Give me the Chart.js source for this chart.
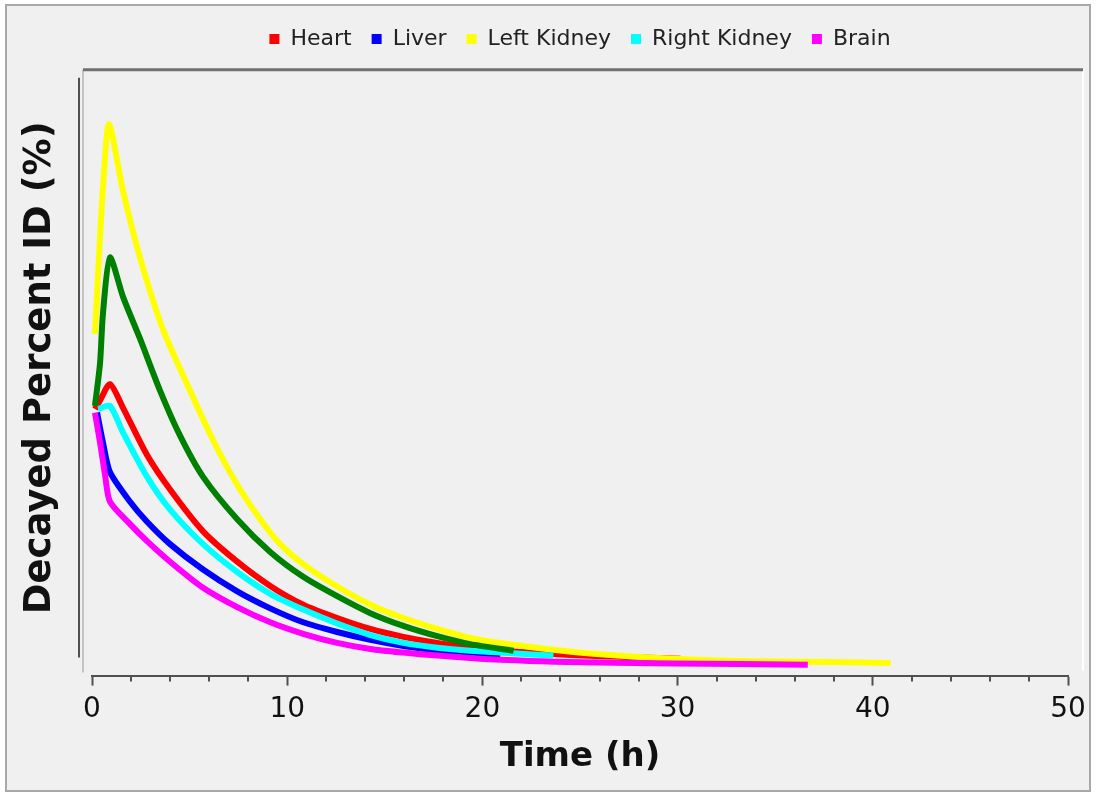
<!DOCTYPE html>
<html>
<head>
<meta charset="utf-8">
<script src="https://cdn.jsdelivr.net/npm/chart.js@4/dist/chart.umd.min.js"></script>
<style>
  html, body { margin: 0; padding: 0; background: #ffffff; }
  #wrap { position: relative; width: 1096px; height: 793px; }
</style>
</head>
<body>
<div id="wrap"><canvas id="myChart"></canvas></div>
<script>
// values (time in h, decayed %ID in arbitrary plot units)
const heartTime = [0.15, 0.41, 0.92, 1.59, 2.82, 4.0, 5.69, 7.44, 9.13, 10.82, 12.56, 14.26, 15.95, 17.69, 19.38, 21.95, 24.51, 27.08, 30.15];
const heartValues = [44.0, 45.4, 48.1, 44.2, 36.4, 30.7, 23.8, 18.8, 14.8, 11.7, 9.5, 7.7, 6.4, 5.4, 4.6, 3.9, 3.4, 3.1, 2.8];

const liverTime = [0.26, 0.56, 0.92, 1.95, 2.82, 4.0, 5.69, 7.44, 9.13, 10.82, 12.56, 14.26, 15.95, 17.69, 19.38, 20.92];
const liverValues = [43.4, 38.5, 33.6, 28.7, 25.4, 21.7, 17.5, 13.9, 11.1, 8.8, 7.2, 5.9, 4.9, 4.2, 3.8, 3.4];

const leftKidneyTime = [0.15, 0.41, 0.56, 0.87, 1.59, 2.46, 3.64, 5.03, 6.21, 7.44, 8.62, 9.64, 10.82, 12.56, 14.26, 15.95, 17.69, 19.38, 21.28, 24.67, 29.0, 33.2, 36.5, 40.92];
const leftKidneyValues = [56.4, 72.3, 80.4, 91.0, 80.0, 69.0, 57.1, 47.0, 38.8, 31.5, 25.8, 21.7, 18.4, 14.7, 11.7, 9.5, 7.7, 6.2, 5.2, 3.9, 2.9, 2.4, 2.3, 2.1];

const rightKidneyTime = [0.31, 0.92, 1.59, 2.82, 4.0, 5.69, 7.44, 9.13, 10.82, 12.56, 14.26, 15.95, 17.69, 19.38, 21.95, 23.64];
const rightKidneyValues = [44.0, 44.5, 40.1, 32.8, 27.4, 21.7, 17.1, 13.5, 10.9, 8.6, 6.7, 5.4, 4.6, 4.1, 3.6, 3.3];

const brainTime = [0.15, 0.41, 0.67, 0.92, 1.95, 2.82, 4.0, 5.69, 7.44, 9.13, 10.82, 12.56, 14.26, 15.95, 17.69, 19.38, 20.92, 23.64, 29.8, 36.67];
const brainValues = [43.4, 38.5, 33.1, 28.7, 25.0, 22.2, 18.8, 14.5, 11.3, 8.8, 6.9, 5.4, 4.4, 3.8, 3.3, 2.9, 2.6, 2.3, 2.0, 1.8];

// green curve in the plot has no legend entry
const kidneyMeanTime = [0.15, 0.41, 0.56, 0.92, 1.59, 2.46, 3.49, 4.51, 5.69, 7.44, 9.13, 10.82, 12.56, 14.26, 15.95, 17.69, 19.38, 21.6];
const kidneyMeanValues = [44.5, 51.5, 59.7, 69.0, 62.5, 55.6, 47.0, 39.6, 32.8, 25.8, 20.4, 16.3, 13.1, 10.3, 8.2, 6.5, 5.2, 4.1];

const legendNames = ['Heart', 'Liver', 'Left Kidney', 'Right Kidney', 'Brain'];
const xTicksMax = 50;
const xMajorStep = 10;
const xMinorStep = 2;

function toPoints(times, values) {
    return times.map((t, i) => ({ x: t, y: values[i] }));
}

function makeSeries(label, times, values, color, order) {
    return {
        label: label,
        data: toPoints(times, values),
        borderColor: color,
        backgroundColor: color,
        borderWidth: 6,
        pointRadius: 0,
        fill: false,
        tension: 0.25,
        order: order
    };
}

const framePlugin = {
    id: 'frame',
    beforeDraw(chart) {
        const ctx = chart.ctx;
        ctx.save();
        ctx.fillStyle = '#ffffff';
        ctx.fillRect(0, 0, chart.width, chart.height);
        ctx.fillStyle = '#f0f0f0';
        ctx.fillRect(6, 5, chart.width - 12, chart.height - 7);
        ctx.strokeStyle = '#a8a8a8';
        ctx.lineWidth = 2;
        ctx.strokeRect(6, 5, chart.width - 12, chart.height - 7);
        ctx.restore();
    },
    beforeDatasetsDraw(chart) {
        const ctx = chart.ctx;
        const ca = chart.chartArea;
        const top = chart.scales.y.getPixelForValue(100);
        const left = ca.left - 9;
        const right = ca.right + 15;
        ctx.save();
        ctx.strokeStyle = '#c4c4c4';
        ctx.lineWidth = 2;
        ctx.beginPath();
        ctx.moveTo(left, top);
        ctx.lineTo(left, ca.bottom - 3);
        ctx.stroke();
        ctx.strokeStyle = '#ffffff';
        ctx.beginPath();
        ctx.moveTo(right, top);
        ctx.lineTo(right, ca.bottom - 5);
        ctx.stroke();
        ctx.strokeStyle = '#707070';
        ctx.lineWidth = 3;
        ctx.beginPath();
        ctx.moveTo(left, top);
        ctx.lineTo(right, top);
        ctx.stroke();
        ctx.strokeStyle = '#505050';
        ctx.lineWidth = 2;
        ctx.beginPath();
        ctx.moveTo(ca.left - 13, top + 8);
        ctx.lineTo(ca.left - 13, ca.bottom - 18);
        ctx.stroke();
        ctx.restore();
    },
    afterDraw(chart) {
        // minor ticks on the time axis
        const ctx = chart.ctx;
        const xs = chart.scales.x;
        ctx.save();
        ctx.strokeStyle = '#505050';
        ctx.lineWidth = 2;
        for (let v = 0; v <= xTicksMax; v += xMinorStep) {
            if (v % xMajorStep === 0) continue;
            const px = Math.round(xs.getPixelForValue(v));
            ctx.beginPath();
            ctx.moveTo(px, xs.top);
            ctx.lineTo(px, xs.top + 6);
            ctx.stroke();
        }
        ctx.restore();
    }
};

const ctx = document.getElementById('myChart').getContext('2d');
const myChart = new Chart(ctx, {
    type: 'line',
    data: {
        datasets: [
            makeSeries('Heart', heartTime, heartValues, '#ff0000', 6),
            makeSeries('Liver', liverTime, liverValues, '#0000ff', 5),
            makeSeries('Left Kidney', leftKidneyTime, leftKidneyValues, '#ffff00', 4),
            makeSeries('Right Kidney', rightKidneyTime, rightKidneyValues, '#00ffff', 3),
            makeSeries('Brain', brainTime, brainValues, '#ff00ff', 2),
            makeSeries('Kidney Mean', kidneyMeanTime, kidneyMeanValues, '#008000', 1)
        ]
    },
    options: {
        responsive: true,
        maintainAspectRatio: false,
        animation: false,
        layout: {
            padding: { left: 14, right: 28, top: 8, bottom: 9 }
        },
        plugins: {
            legend: {
                position: 'top',
                fullSize: false,
                labels: {
                    boxWidth: 10,
                    boxHeight: 10,
                    padding: 20,
                    color: '#222222',
                    font: { family: 'DejaVu Sans', size: 22 },
                    sort: (a, b) => a.datasetIndex - b.datasetIndex,
                    filter: (item) => legendNames.includes(item.text),
                    generateLabels: (chart) => {
                        const items = Chart.defaults.plugins.legend.labels.generateLabels(chart);
                        items.forEach((item) => { item.lineWidth = 0; });
                        return items;
                    }
                }
            },
            tooltip: { enabled: false }
        },
        scales: {
            x: {
                type: 'linear',
                min: 0,
                max: xTicksMax,
                position: 'bottom',
                border: { display: true, color: '#505050', width: 2 },
                grid: {
                    drawOnChartArea: false,
                    drawTicks: true,
                    tickLength: 10,
                    tickWidth: 2,
                    tickColor: '#505050'
                },
                ticks: {
                    stepSize: xMajorStep,
                    padding: 7,
                    color: '#111111',
                    font: { family: 'DejaVu Sans', size: 28 }
                },
                title: {
                    display: true,
                    text: 'Time (h)',
                    color: '#111111',
                    padding: { top: 4, bottom: 6 },
                    font: { family: 'DejaVu Sans', size: 34, weight: 'bold' }
                }
            },
            y: {
                min: 0,
                max: 101.6,
                border: { display: false },
                grid: { display: false },
                ticks: { display: false },
                title: {
                    display: true,
                    text: 'Decayed Percent ID (%)',
                    color: '#111111',
                    padding: { top: 4, bottom: 0 },
                    font: { family: 'DejaVu Sans', size: 37, weight: 'bold' }
                },
                afterFit: (scale) => { scale.width = 78; }
            }
        }
    },
    plugins: [framePlugin]
});
</script>
</body>
</html>
